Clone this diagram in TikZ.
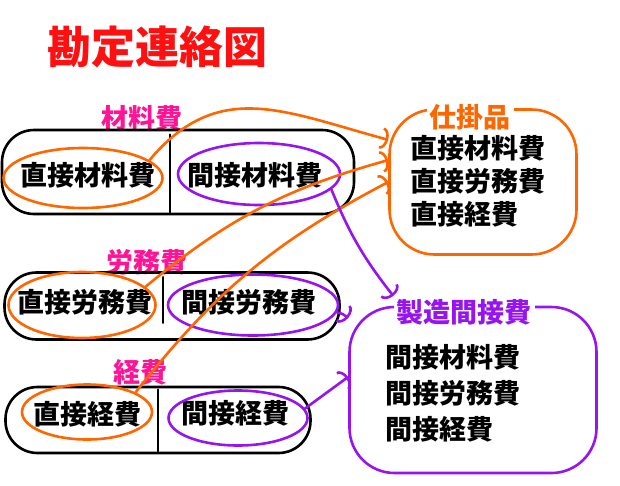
\documentclass[tikz,border=0pt]{standalone}
\usepackage{fontspec}
\setmainfont{Noto Sans CJK JP}
\usetikzlibrary{shapes.geometric,calc,arrows.meta,positioning}
\definecolor{kanjo}{RGB}{255,16,16}
\definecolor{himoku}{RGB}{255,20,150}
\definecolor{chokusetsu}{RGB}{255,102,0}
\definecolor{kansetsu}{RGB}{150,20,240}

\begin{document}
\begin{tikzpicture}[x=1pt, y=-1pt, line cap=round, line join=round,
    pen/.style={line width=2.6pt},
    kamoku/.style={font=\fontsize{27}{27}\selectfont\bfseries, inner sep=0pt},
    midashi/.style={text=himoku, font=\fontsize{27}{27}\selectfont\bfseries, inner sep=0pt},
    waku/.style={draw, pen, rectangle, rounded corners=32pt, inner sep=0pt},
    dwa/.style={draw=chokusetsu, pen, ellipse, inner sep=0pt},
    iwa/.style={draw=kansetsu, pen, ellipse, inner sep=0pt},
    dya/.style={chokusetsu, pen, -{Arc Barb[length=7pt,width=22pt]}},
    iya/.style={kansetsu, pen, -{Arc Barb[length=7pt,width=22pt]}},
    kago/.style={pen, rectangle, rounded corners=45pt, inner sep=0pt}]
    \useasboundingbox (0,0) rectangle (620,485);

    \node[text=kanjo, font=\fontsize{44}{44}\selectfont\bfseries, inner sep=0pt] (title) at (157,47) {勘定連絡図};

    % 材料費
    \node[midashi] (zairyo) at (142,118) {材料費};
    \node[waku, minimum width=352pt, minimum height=84pt] (row1) at (178,172) {};
    \draw[pen] ([xshift=-8pt,yshift=-6pt]row1.north) -- ([xshift=-8pt,yshift=3pt]row1.south);
    \node[kamoku] (direct1) at (88,175) {直接材料費};
    \node[kamoku] (indirect1) at (255,175) {間接材料費};

    % 労務費
    \node[midashi] (romu) at (147,262) {労務費};
    \node[waku, minimum width=335pt, minimum height=67pt] (row2) at (172,306) {};
    \draw[pen] ([xshift=-9pt,yshift=-6pt]row2.north) -- ([xshift=-9pt,yshift=18pt]row2.south);
    \node[kamoku] (direct2) at (85,302) {直接労務費};
    \node[kamoku] (indirect2) at (249,302) {間接労務費};

    % 経費
    \node[midashi] (keihi) at (140,372) {経費};
    \node[waku, minimum width=305pt, minimum height=66pt] (row3) at (158,420) {};
    \draw[pen] ([yshift=-4pt]row3.north) -- ([yshift=3pt]row3.south);
    \node[kamoku] (direct3) at (87,414) {直接経費};
    \node[kamoku] (indirect3) at (235,413) {間接経費};

    % 囲み
    \node[dwa, minimum width=159pt, minimum height=60pt] (direct1c) at (83,178) {};
    \node[iwa, minimum width=162pt, minimum height=62pt] (indirect1c) at (259,174) {};
    \node[dwa, minimum width=147pt, minimum height=66pt] (direct2c) at (82,305) {};
    \node[iwa, minimum width=170pt, minimum height=61pt] (indirect2c) at (253,305) {};
    \node[dwa, minimum width=130pt, minimum height=55pt] (direct3c) at (87,412) {};
    \node[iwa, minimum width=139pt, minimum height=55pt] (indirect3c) at (238,418) {};

    % 仕掛品
    \node[kago, draw=chokusetsu, minimum width=187pt, minimum height=145pt] (shikakari) at (483,182) {};
    \node[midashi, text=chokusetsu, fill=white, inner sep=3pt] (shikakarittl) at (470,117) {仕掛品};
    \node[kamoku, anchor=west] (shi1) at (410,148) {直接材料費};
    \node[kamoku, below=7pt of shi1.south west, anchor=north west] (shi2) {直接労務費};
    \node[kamoku, below=7pt of shi2.south west, anchor=north west] (shi3) {直接経費};

    % 製造間接費
    \node[kago, draw=kansetsu, minimum width=247pt, minimum height=166pt] (seizo) at (473,390) {};
    \node[midashi, text=kansetsu, fill=white, inner sep=3pt] (seizottl) at (464,312) {製造間接費};
    \node[kamoku, anchor=west] (sei1) at (385,357) {間接材料費};
    \node[kamoku, below=10pt of sei1.south west, anchor=north west] (sei2) {間接労務費};
    \node[kamoku, below=10pt of sei2.south west, anchor=north west] (sei3) {間接経費};

    \draw[dya] (direct1c.15) to[out=50, in=165, looseness=1.15] (shikakari.156);
    \draw[dya] (direct2c.16) to[bend left=12] (shikakari.167);
    \draw[dya] (direct3c.22) to[bend left=12] (shikakari.180);
    \draw[iya] (indirect1c.-12) to[bend right=8] (seizottl.north west);
    \draw[iya] (indirect2c.-5) to[bend left=15] (seizo.150);
    \draw[iya] (indirect3c.8) -- (seizo.174);
\end{tikzpicture}
\end{document}
